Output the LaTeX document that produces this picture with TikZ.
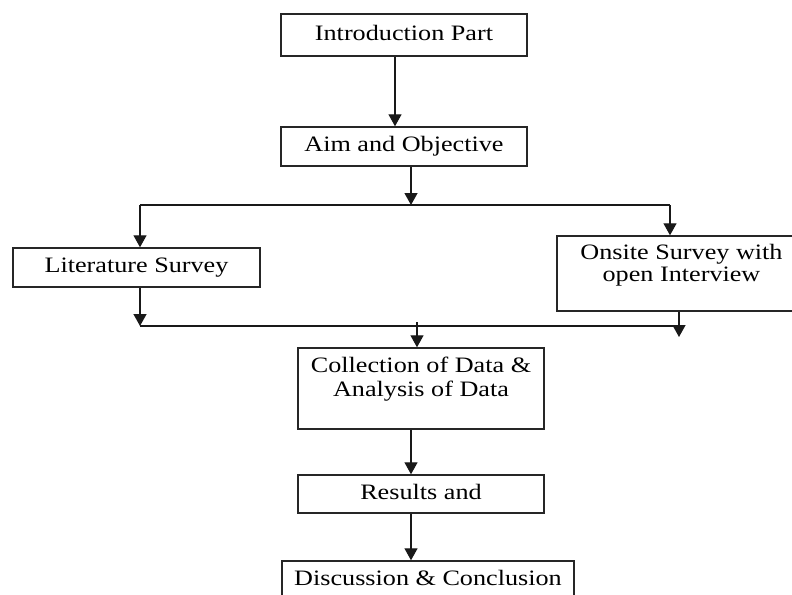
\documentclass[tikz,border=0pt]{standalone}
\usepackage{fontspec}
\setmainfont[FakeStretch=1.19]{Liberation Serif}
\usetikzlibrary{arrows.meta}

\tikzset{
  stage/.style={draw=black!85, line width=1.4pt, minimum width=246pt,
    minimum height=39pt, inner sep=2pt, align=center,
    font=\fontsize{22}{24}\selectfont},
  oneline/.style={text height=15pt, text depth=4.5pt},
  flow/.style={line width=1.3pt, draw=black!90, -{Triangle[width=13pt,length=12pt]}},
  link/.style={line width=1.3pt, draw=black!90}
}

\begin{document}
\begin{tikzpicture}[x=1pt,y=-1pt]
\useasboundingbox (0,0) rectangle (792,594);

% boxes
\node[stage,oneline,minimum height=42pt] (intro) at (404,35) {Introduction Part};
\node[stage,oneline] (aim) at (404,146.5) {Aim and Objective};
\node[stage,oneline,minimum width=247pt] (lit) at (136.5,267.5) {Literature Survey};
\node[stage,minimum width=249pt,minimum height=75pt,font=\fontsize{22}{21.5}\selectfont]
  (onsite) at (681.5,273.5) {Onsite Survey with\\open Interview\\\mbox{}};
\node[stage,minimum height=81pt] (collect) at (421,388.5) {Collection of Data \&\\Analysis of Data\\\mbox{}};
\node[stage,oneline,minimum height=38pt] (results) at (421,494) {Results and};
\node[stage,oneline,minimum width=292pt] (disc) at (428,580.5) {Discussion \& Conclusion};

% branch and merge points
\coordinate (split) at (411,205);
\coordinate (branchL) at (140,205);
\coordinate (branchR) at (670,205);
\coordinate (mergeL) at (140,326);
\coordinate (mergeR) at (679,326);
\coordinate (mergeTip) at (679,337);
\coordinate (mergeOut) at (417,322);

% connectors
\draw[flow] ([xshift=-9pt]intro.south) -- ([xshift=-9pt]aim.north);
\draw[flow] ([xshift=7pt]aim.south) -- (split);
\draw[link] (branchL) -- (branchR);
\draw[flow] (branchL) -- (branchL |- lit.north);
\draw[flow] (branchR) -- (branchR |- onsite.north);
\draw[flow] (mergeL |- lit.south) -- (mergeL);
\draw[link] (mergeL) -- (mergeR);
\draw[flow] (mergeR |- onsite.south) -- (mergeTip);
\draw[flow] (mergeOut) -- (mergeOut |- collect.north);
\draw[flow] ([xshift=-10pt]collect.south) -- ([xshift=-10pt]results.north);
\draw[flow] ([xshift=-10pt]results.south) -- ([xshift=-17pt]disc.north);

\end{tikzpicture}
\end{document}
